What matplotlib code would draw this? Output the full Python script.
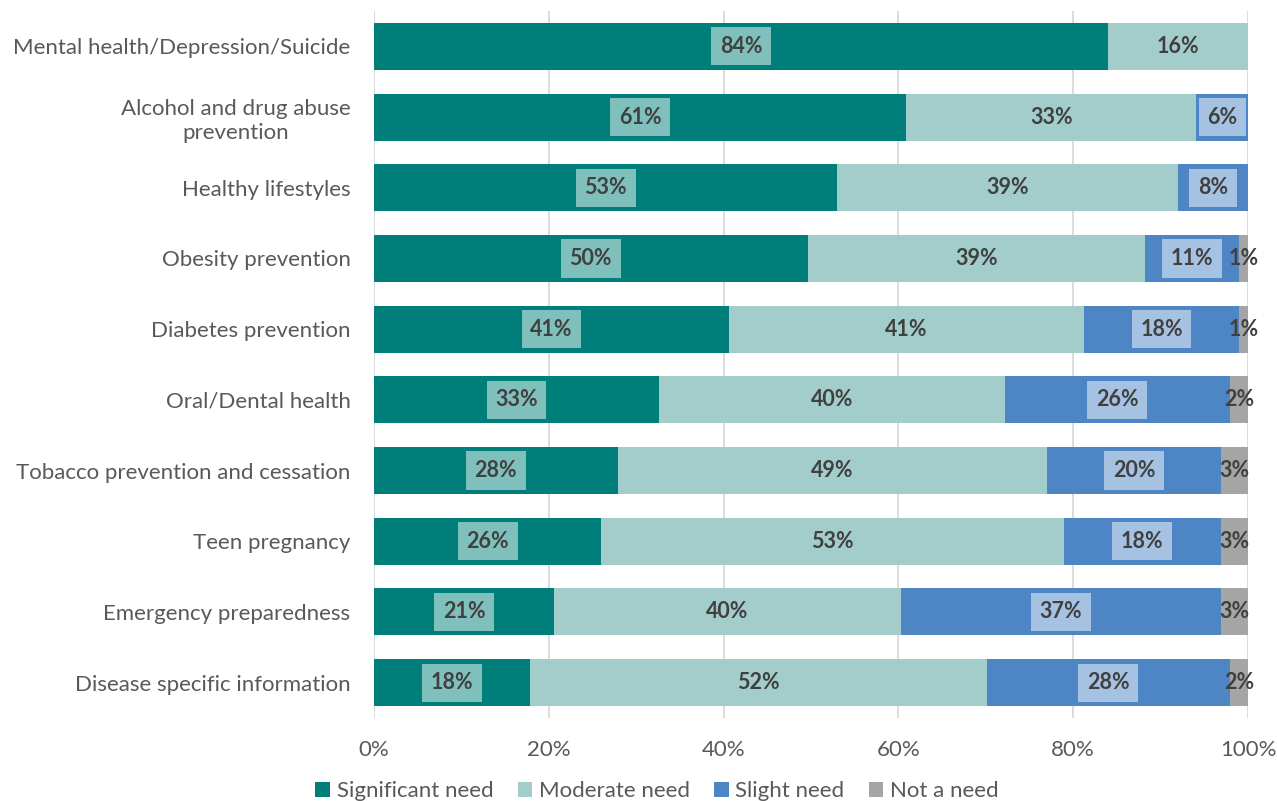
import matplotlib.pyplot as plt
import numpy as np

plt.rcParams["font.family"] = ["Lato", "DejaVu Sans"]

topics = [
    "Mental health/Depression/Suicide",
    "Alcohol and drug abuse\nprevention",
    "Healthy lifestyles",
    "Obesity prevention",
    "Diabetes prevention",
    "Oral/Dental health",
    "Tobacco prevention and cessation",
    "Teen pregnancy",
    "Emergency preparedness",
    "Disease specific information",
]
significant = [84.0, 60.9, 53.0, 49.6, 40.6, 32.6, 27.9, 26.0, 20.6, 17.9]
moderate = [16.0, 33.2, 39.0, 38.6, 40.6, 39.6, 49.1, 52.9, 39.7, 52.2]
slight = [0.0, 5.9, 8.0, 10.8, 17.8, 25.7, 19.9, 18.0, 36.6, 27.8]
not_need = [0.0, 0.0, 0.0, 1.0, 1.0, 2.1, 3.1, 3.1, 3.1, 2.1]

series = [
    ("Significant need", significant, "#007F7A", True),
    ("Moderate need", moderate, "#A2CDCB", False),
    ("Slight need", slight, "#4D85C5", True),
    ("Not a need", not_need, "#A5A5A5", False),
]

fig = plt.figure(figsize=(12.77, 8.01), dpi=100)
ax = fig.add_axes([374 / 1277, 1 - 718 / 801, 874 / 1277, 707 / 801])

y = np.arange(len(topics))
left = np.zeros(len(topics))
for name, vals, color, boxed in series:
    vals = np.asarray(vals)
    ax.barh(y, vals, left=left, height=0.665, color=color, label=name, lw=0)
    for yi, v, l0 in zip(y, vals, left):
        if v <= 0:
            continue
        kw = {}
        if boxed:
            kw["bbox"] = dict(boxstyle="square,pad=0.4", fc="white", alpha=0.5, ec="none")
        ax.text(l0 + v / 2, yi, f"{v:.0f}%", ha="center", va="center",
                fontsize=15.5, fontweight="bold", color="#404040", **kw)
    left += vals

ax.set_xlim(0, 100)
ax.set_ylim(len(topics) - 0.5, -0.5)
ax.set_xticks(np.arange(0, 101, 20))
ax.set_xticklabels([f"{t}%" for t in range(0, 101, 20)])
ax.set_yticks(y)
ax.set_yticklabels(topics, multialignment="center", linespacing=1.25)
ax.tick_params(axis="x", length=0, pad=16, labelsize=16, labelcolor="#595959")
ax.tick_params(axis="y", length=0, pad=17, labelsize=16, labelcolor="#595959")
ax.grid(axis="x", color="#D9D9D9", lw=1.3)
ax.set_axisbelow(True)
for s in ax.spines.values():
    s.set_visible(False)

fig.legend(loc="center", bbox_to_anchor=(657 / 1277, 1 - 791 / 801), ncol=4,
           frameon=False, fontsize=16, labelcolor="#595959",
           handlelength=0.65, handleheight=0.65, handletextpad=0.3, columnspacing=1.1)

fig.savefig("out.png", dpi=100)
